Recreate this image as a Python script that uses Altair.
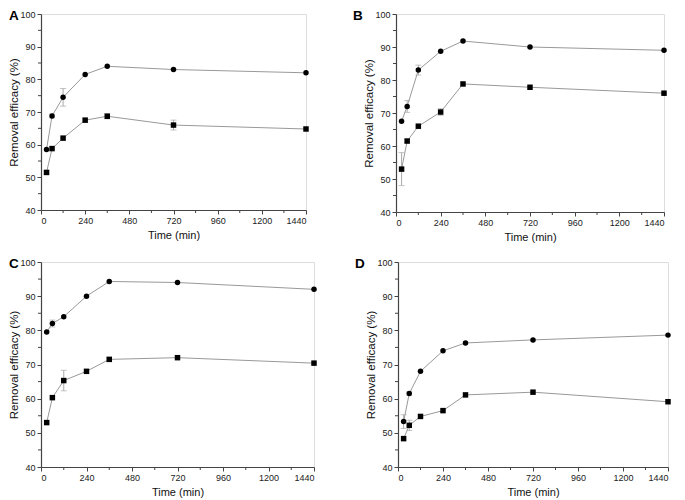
import altair as alt
import pandas as pd

times = [30, 60, 120, 240, 360, 720, 1440]

# Panel A
a_circle = [58.5, 68.8, 74.5, 81.5, 84.0, 83.0, 82.0]
a_circle_err = [0, 0.6, 2.7, 0.4, 0.3, 0.3, 0.3]
a_square = [51.5, 58.8, 62.0, 67.5, 68.7, 66.0, 64.8]
a_square_err = [0.5, 0.4, 0.3, 0.6, 0.8, 1.5, 0.3]

# Panel B
b_circle = [67.5, 72.0, 83.0, 88.7, 91.8, 90.0, 89.0]
b_circle_err = [0, 1.8, 1.5, 0.4, 0.3, 0.3, 0.3]
b_square = [53.0, 61.5, 66.0, 70.3, 78.8, 77.8, 76.0]
b_square_err = [5.0, 0.5, 0.4, 1.0, 0.3, 0.3, 0.3]

# Panel C
c_circle = [79.5, 82.0, 84.0, 90.0, 94.3, 94.0, 92.0]
c_circle_err = [0.3, 1.0, 0.4, 0.3, 0.4, 0.3, 0.3]
c_square = [53.0, 60.3, 65.3, 68.0, 71.5, 72.0, 70.4]
c_square_err = [0.3, 0.4, 3.0, 0.3, 0.6, 0.4, 0.3]

# Panel D
d_circle = [53.3, 61.5, 68.0, 74.0, 76.3, 77.2, 78.6]
d_circle_err = [2.0, 0.5, 0.3, 0.3, 0.3, 0.3, 0.3]
d_square = [48.3, 52.2, 54.8, 56.5, 61.1, 61.9, 59.1]
d_square_err = [0.3, 1.5, 0.3, 0.3, 0.3, 0.3, 0.3]

major_x = [0, 240, 480, 720, 960, 1200, 1440]
minor_x = [120, 360, 600, 840, 1080, 1320]
major_y = [40, 50, 60, 70, 80, 90, 100]
minor_y = [45, 55, 65, 75, 85, 95]

FONT = "Liberation Sans"
AX = "#444444"

XS = alt.Scale(domain=[0, 1440], nice=False)
YS = alt.Scale(domain=[40, 100], nice=False)
AXX = alt.Axis(values=major_x, title="Time (min)", format="d", labelOverlap=False,
               labelPadding=2, titlePadding=4, titleFontSize=11)
AXY = alt.Axis(values=major_y, title="Removal efficacy (%)", format="d",
               labelOverlap=False, labelPadding=2, titlePadding=0, titleFontSize=11.5)


def make_df(circ, circ_err, sq, sq_err):
    rows = []
    for t, v, e in zip(times, circ, circ_err):
        rows.append({"time": t, "value": v, "err": e, "series": "circle"})
    for t, v, e in zip(times, sq, sq_err):
        rows.append({"time": t, "value": v, "err": e, "series": "square"})
    df = pd.DataFrame(rows)
    df["lo"] = df["value"] - df["err"]
    df["hi"] = df["value"] + df["err"]
    return df


def panel(letter, circ, circ_err, sq, sq_err, w, h, lx):
    df = make_df(circ, circ_err, sq, sq_err)

    def X(f="time"):
        return alt.X(f + ":Q", scale=XS, axis=AXX)

    def Y(f="value"):
        return alt.Y(f + ":Q", scale=YS, axis=AXY)

    minor_xt = alt.Chart(pd.DataFrame({"time": minor_x})).mark_rule(
        color=AX, strokeWidth=1).encode(
        x=X(), y=alt.value(h), y2=alt.value(h + 3))
    minor_yt = alt.Chart(pd.DataFrame({"value": minor_y})).mark_rule(
        color=AX, strokeWidth=1).encode(
        y=Y(), x=alt.value(0), x2=alt.value(-3))
    lines = alt.Chart(df).mark_line(color="#999999", strokeWidth=1).encode(
        x=X(), y=Y(), detail="series:N")
    dfe = df[df["err"] > 0.45]
    errs = alt.Chart(dfe).mark_rule(color="#aaaaaa", strokeWidth=1).encode(
        x=X(), y=Y("lo"), y2="hi:Q")
    cap_lo = alt.Chart(dfe).mark_tick(color="#aaaaaa", orient="horizontal",
                                      size=6, thickness=1).encode(x=X(), y=Y("lo"))
    cap_hi = alt.Chart(dfe).mark_tick(color="#aaaaaa", orient="horizontal",
                                      size=6, thickness=1).encode(x=X(), y=Y("hi"))
    pts = alt.Chart(df).mark_point(filled=True, color="black", opacity=1, size=30).encode(
        x=X(), y=Y(),
        shape=alt.Shape("series:N",
                        scale=alt.Scale(domain=["circle", "square"],
                                        range=["circle", "square"]),
                        legend=None))
    lab = alt.Chart(pd.DataFrame({"t": [letter]})).mark_text(
        font=FONT, fontSize=13.5, fontWeight="bold", align="left",
        baseline="top", color="black").encode(
        text="t:N", x=alt.value(lx), y=alt.value(-5))
    return alt.layer(lines, errs, cap_lo, cap_hi, minor_xt, minor_yt, pts, lab).properties(
        width=w, height=h)


pA = panel("A", a_circle, a_circle_err, a_square, a_square_err, 265, 196, -32)
pB = panel("B", b_circle, b_circle_err, b_square, b_square_err, 268, 198, -43)
pC = panel("C", c_circle, c_circle_err, c_square, c_square_err, 273, 205, -32)
pD = panel("D", d_circle, d_circle_err, d_square, d_square_err, 270, 205, -43)

chart = alt.vconcat(
    alt.hconcat(pA, pB, spacing=42),
    alt.hconcat(pC, pD, spacing=36),
    spacing=13,
).properties(
    padding=0
).configure_view(stroke=None).configure(background="white").configure_axis(
    domainColor=AX, tickColor=AX, labelColor="#222222",
    labelFont=FONT, labelFontSize=9, titleFont=FONT,
    titleFontWeight="normal", titleColor="#111111",
    grid=False, tickSize=4, domainWidth=1.2, tickWidth=1)

chart.save("out.html", embed_options={"renderer": "svg", "actions": False})
